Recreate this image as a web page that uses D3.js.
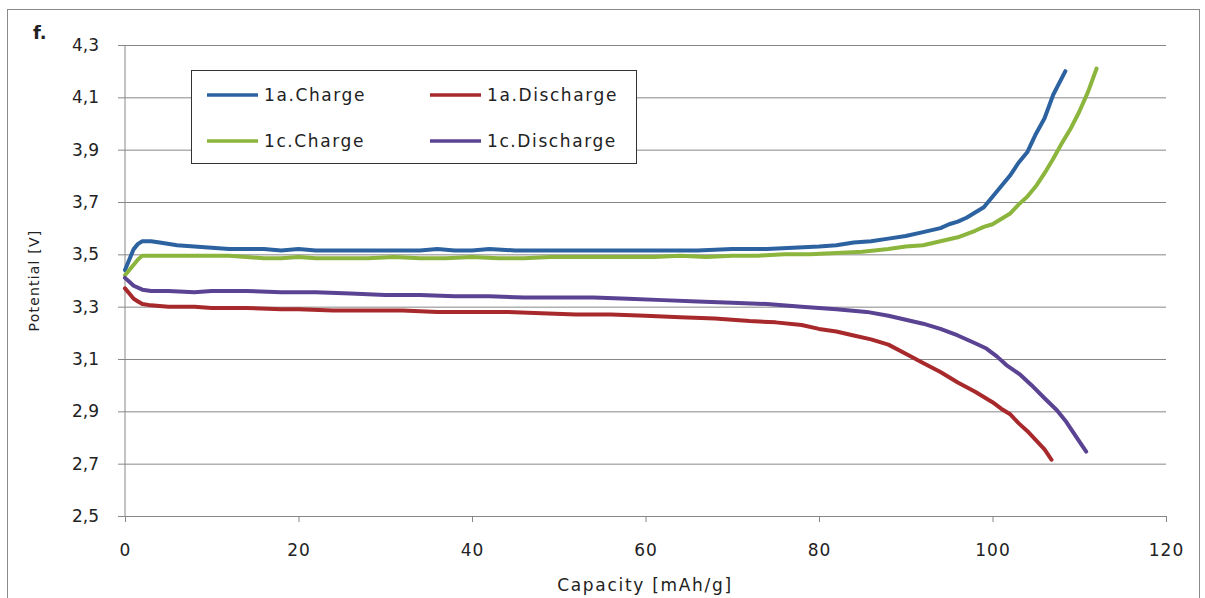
<!DOCTYPE html>
<html>
<head>
<meta charset="utf-8">
<script src="https://cdn.jsdelivr.net/npm/d3@7"></script>
<style>
  body { margin: 0; background: #fff; }
  svg text { font-family: "DejaVu Sans", "Open Sans", sans-serif; fill: #222; }
</style>
</head>
<body>
<div id="chart"></div>
<script>
// capacity (mAh/g) and potential (V)
const charge1aX = [0, 0.5, 1, 1.5, 2, 3, 4, 6, 8, 10, 12, 14, 16, 18, 20, 22, 25, 28, 31, 34, 36, 38, 40, 42, 45, 48, 51, 54, 57, 60, 63, 66, 70, 74, 77, 80, 82, 84, 86, 88, 90, 92, 94, 95, 96, 97, 98, 99, 100, 101, 102, 103, 104, 105, 106, 107, 108.4];
const charge1aY = [3.44, 3.48, 3.52, 3.54, 3.55, 3.55, 3.545, 3.535, 3.53, 3.525, 3.52, 3.52, 3.52, 3.515, 3.52, 3.515, 3.515, 3.515, 3.515, 3.515, 3.52, 3.515, 3.515, 3.52, 3.515, 3.515, 3.515, 3.515, 3.515, 3.515, 3.515, 3.515, 3.52, 3.52, 3.525, 3.53, 3.535, 3.545, 3.55, 3.56, 3.57, 3.585, 3.60, 3.615, 3.625, 3.64, 3.66, 3.68, 3.72, 3.76, 3.80, 3.85, 3.89, 3.96, 4.02, 4.11, 4.20];

const charge1cX = [0, 0.5, 1, 1.5, 2, 4, 6, 8, 10, 12, 14, 16, 18, 20, 22, 25, 28, 31, 34, 37, 40, 43, 46, 49, 52, 55, 58, 61, 64, 67, 70, 73, 76, 79, 82, 85, 88, 90, 92, 94, 96, 98, 99, 100, 101, 102, 103, 104, 105, 106, 107, 108, 109, 110, 111, 112];
const charge1cY = [3.42, 3.44, 3.46, 3.48, 3.495, 3.495, 3.495, 3.495, 3.495, 3.495, 3.49, 3.485, 3.485, 3.49, 3.485, 3.485, 3.485, 3.49, 3.485, 3.485, 3.49, 3.485, 3.485, 3.49, 3.49, 3.49, 3.49, 3.49, 3.495, 3.49, 3.495, 3.495, 3.50, 3.50, 3.505, 3.51, 3.52, 3.53, 3.535, 3.55, 3.565, 3.59, 3.605, 3.615, 3.635, 3.655, 3.69, 3.72, 3.76, 3.81, 3.865, 3.925, 3.98, 4.045, 4.12, 4.21];

const discharge1aX = [0, 0.5, 1, 1.5, 2, 3, 5, 8, 10, 14, 18, 20, 24, 28, 32, 36, 40, 44, 48, 52, 56, 60, 64, 68, 72, 75, 78, 80, 82, 84, 86, 88, 90, 92, 94, 96, 98, 100, 101, 102, 103, 104, 105, 106, 106.8];
const discharge1aY = [3.37, 3.35, 3.33, 3.32, 3.31, 3.305, 3.30, 3.30, 3.295, 3.295, 3.29, 3.29, 3.285, 3.285, 3.285, 3.28, 3.28, 3.28, 3.275, 3.27, 3.27, 3.265, 3.26, 3.255, 3.245, 3.24, 3.23, 3.215, 3.205, 3.19, 3.175, 3.155, 3.12, 3.085, 3.05, 3.01, 2.975, 2.935, 2.91, 2.89, 2.855, 2.825, 2.79, 2.755, 2.715];

const discharge1cX = [0, 0.5, 1, 2, 3, 5, 8, 10, 14, 18, 22, 26, 30, 34, 38, 42, 46, 50, 54, 58, 62, 66, 70, 74, 78, 82, 85.5, 88, 90, 92, 94, 96, 98, 99.3, 100.5, 101.6, 103.2, 104.5, 106, 107.4, 108.5, 109.5, 110.8];
const discharge1cY = [3.41, 3.395, 3.38, 3.365, 3.36, 3.36, 3.355, 3.36, 3.36, 3.355, 3.355, 3.35, 3.345, 3.345, 3.34, 3.34, 3.335, 3.335, 3.335, 3.33, 3.325, 3.32, 3.315, 3.31, 3.30, 3.29, 3.28, 3.265, 3.25, 3.235, 3.215, 3.19, 3.16, 3.14, 3.11, 3.077, 3.04, 3.00, 2.95, 2.905, 2.86, 2.81, 2.746];

const seriesNames = ["1a.Charge", "1a.Discharge", "1c.Charge", "1c.Discharge"];
const xTicks = [0, 20, 40, 60, 80, 100, 120];
const yTicks = [2.5, 2.7, 2.9, 3.1, 3.3, 3.5, 3.7, 3.9, 4.1, 4.3];

const width = 1205, height = 598;
const plotL = 125, plotR = 1166, plotT = 45, plotB = 516;

const svg = d3.select("#chart").append("svg")
    .attr("width", width)
    .attr("height", height);

// outer frame of the chart
svg.append("rect")
    .attr("x", 7.5).attr("y", 9.5)
    .attr("width", 1192).attr("height", 600)
    .attr("fill", "none")
    .attr("stroke", "#8a8a8a");

const x = d3.scaleLinear().domain([0, 120]).range([plotL, plotR]);
const y = d3.scaleLinear().domain([2.5, 4.3]).range([plotB, plotT]);
const fmt = d => d3.format(".1f")(d).replace(".", ",");

// gridlines + y tick labels (axis placed on the right so ticks span the plot)
const gy = svg.append("g")
    .attr("transform", `translate(${plotR},0)`)
    .call(d3.axisLeft(y).tickValues(yTicks).tickFormat(fmt)
        .tickSize(plotR - plotL + 7).tickPadding(19));
gy.select(".domain").remove();
gy.selectAll(".tick line").attr("stroke", "#878787");
gy.selectAll(".tick text").style("font-size", "17px").attr("fill", "#222");

// left axis line
svg.append("line")
    .attr("x1", plotL).attr("x2", plotL)
    .attr("y1", plotT).attr("y2", plotB)
    .attr("stroke", "#878787");

const gx = svg.append("g")
    .attr("transform", `translate(0,${plotB})`)
    .call(d3.axisBottom(x).tickValues(xTicks).tickSize(6).tickSizeOuter(0).tickPadding(22));
gx.select(".domain").attr("stroke", "#878787");
gx.selectAll(".tick line").attr("stroke", "#878787");
gx.selectAll(".tick text").style("font-size", "17px").style("letter-spacing", "1px").attr("fill", "#222");

const series = [
  {name: seriesNames[0], xs: charge1aX, ys: charge1aY, color: "#2c62a0"},
  {name: seriesNames[1], xs: discharge1aX, ys: discharge1aY, color: "#a8292b"},
  {name: seriesNames[2], xs: charge1cX, ys: charge1cY, color: "#8bb53c"},
  {name: seriesNames[3], xs: discharge1cX, ys: discharge1cY, color: "#5a4392"}
];

const line = d3.line().x(d => x(d[0])).y(d => y(d[1]));

svg.selectAll("path.series")
    .data(series)
    .enter()
    .append("path")
    .attr("class", "series")
    .attr("d", s => line(s.xs.map((v, i) => [v, s.ys[i]])))
    .attr("fill", "none")
    .attr("stroke", s => s.color)
    .attr("stroke-width", 4)
    .attr("stroke-linejoin", "round")
    .attr("stroke-linecap", "round");

// legend
const lg = svg.append("g");
lg.append("rect")
    .attr("x", 191.5).attr("y", 70.5)
    .attr("width", 445).attr("height", 93)
    .attr("fill", "#fff")
    .attr("stroke", "#333");
const legendPos = [
  {lx: 207, ly: 95}, {lx: 430, ly: 95},
  {lx: 207, ly: 141}, {lx: 430, ly: 141}
];
series.forEach((s, i) => {
  const p = legendPos[i];
  lg.append("line")
      .attr("x1", p.lx).attr("x2", p.lx + 51)
      .attr("y1", p.ly).attr("y2", p.ly)
      .attr("stroke", s.color).attr("stroke-width", 3.5);
  lg.append("text")
      .attr("x", p.lx + 57).attr("y", p.ly + 6)
      .style("font-size", "17px")
      .style("letter-spacing", "1.6px")
      .text(s.name);
});

// labels
svg.append("text")
    .attr("x", 33).attr("y", 39)
    .style("font-size", "18px").style("font-weight", "bold")
    .text("f.");

svg.append("text")
    .attr("x", 645).attr("y", 591)
    .attr("text-anchor", "middle")
    .style("font-size", "17px")
    .style("letter-spacing", "1.7px")
    .text("Capacity [mAh/g]");

svg.append("text")
    .attr("transform", `translate(39,${(plotT + plotB) / 2}) rotate(-90)`)
    .attr("text-anchor", "middle")
    .style("font-size", "14px")
    .style("letter-spacing", "1.2px")
    .text("Potential [V]");
</script>
</body>
</html>
